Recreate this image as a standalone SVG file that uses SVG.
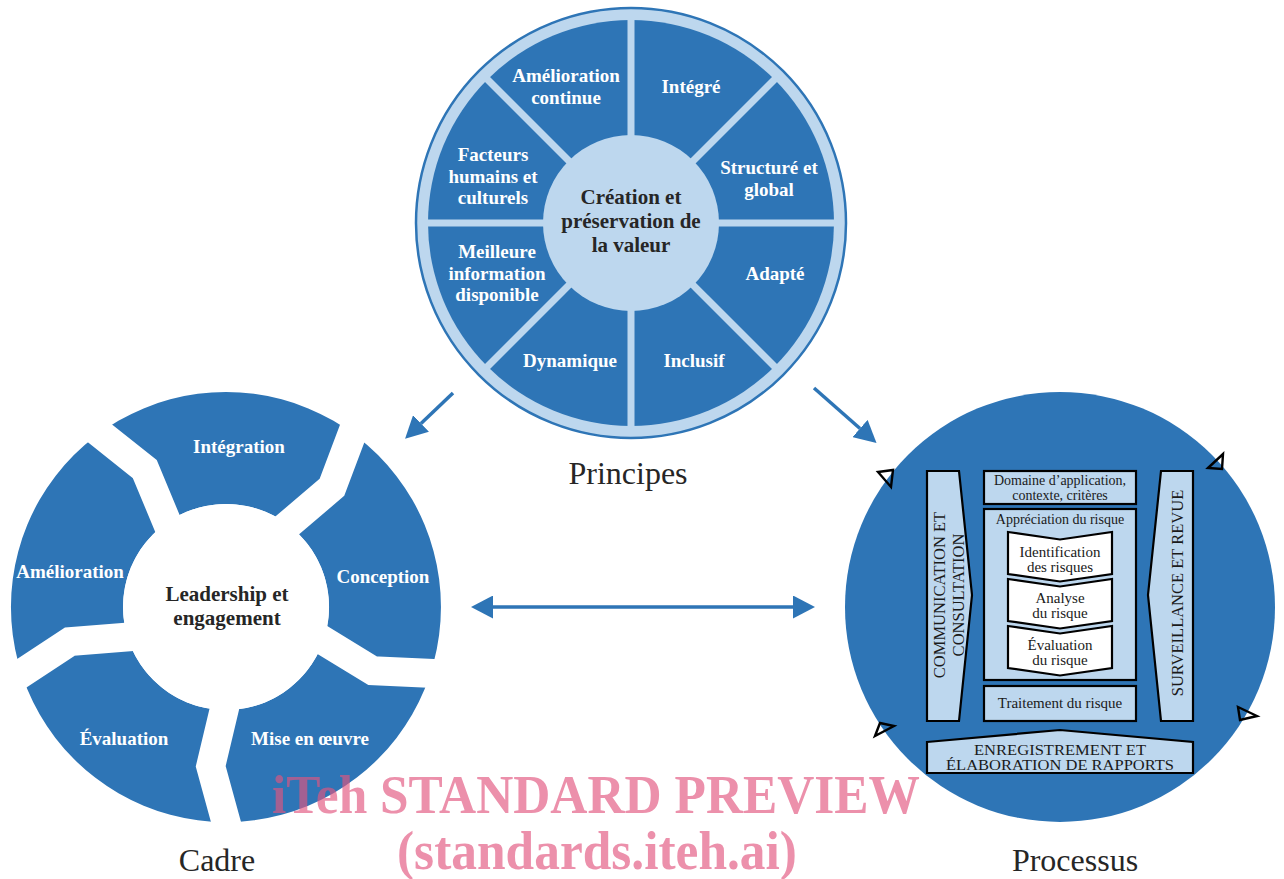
<svg xmlns="http://www.w3.org/2000/svg" width="1284" height="879" viewBox="0 0 1284 879">
<style>
.lbl{font-family:"Liberation Serif","DejaVu Serif",serif;font-weight:bold;font-size:19px;fill:#ffffff;text-anchor:middle}
.ctr{font-family:"Liberation Serif","DejaVu Serif",serif;font-weight:bold;font-size:21px;fill:#262626;text-anchor:middle}
.cap{font-family:"Liberation Serif","DejaVu Serif",serif;font-size:32px;fill:#262626;text-anchor:middle}
.pt{font-family:"Liberation Serif","DejaVu Serif",serif;font-size:15px;fill:#1a1a1a;text-anchor:middle}
.ps{font-family:"Liberation Serif","DejaVu Serif",serif;font-size:14px;fill:#1a1a1a;text-anchor:middle}
.pv{font-family:"Liberation Serif","DejaVu Serif",serif;font-size:16.5px;fill:#1a1a1a;text-anchor:middle}
.pb{font-family:"Liberation Serif","DejaVu Serif",serif;font-size:14px;fill:#1a1a1a;text-anchor:middle}
.box{fill:#BDD7EE;stroke:#000;stroke-width:2.2;stroke-linejoin:miter}
.chev{fill:#ffffff;stroke:#000;stroke-width:2.2;stroke-linejoin:miter}
.tri{fill:none;stroke:#000;stroke-width:2.4;stroke-linejoin:miter}
.sep{stroke:#BDD7EE;stroke-width:7}
.gap{fill:none;stroke:#ffffff;stroke-width:29;stroke-linejoin:miter;stroke-miterlimit:10}
.arr{stroke:#2E75B6;stroke-width:3.5;fill:none}
.wm{font-family:"Liberation Serif","Times New Roman",serif;font-weight:bold;fill:#e2557f;opacity:0.65;text-anchor:middle}
</style>
<defs>
<marker id="ah" viewBox="0 0 22 23" refX="0" refY="11.5" markerWidth="22" markerHeight="23" markerUnits="userSpaceOnUse" orient="auto-start-reverse">
<path d="M0,0 L22,11.5 L0,23 Z" fill="#2E75B6"/>
</marker>
</defs>
<rect width="1284" height="879" fill="#ffffff"/>

<!-- Principes wheel -->
<g id="principes">
<circle cx="631" cy="223" r="215" fill="#BDD7EE" stroke="#2E75B6" stroke-width="2.5"/>
<circle cx="631" cy="223" r="203" fill="#2E75B6"/>
<line class="sep" x1="631" y1="18" x2="631" y2="428"/>
<line class="sep" x1="426" y1="223" x2="836" y2="223"/>
<line class="sep" x1="486" y1="78" x2="776" y2="368"/>
<line class="sep" x1="776" y1="78" x2="486" y2="368"/>
<circle cx="631" cy="223" r="88" fill="#BDD7EE"/>
<text class="lbl" x="566" y="82">Amélioration</text>
<text class="lbl" x="566" y="104">continue</text>
<text class="lbl" x="691" y="93">Intégré</text>
<text class="lbl" x="769" y="174">Structuré et</text>
<text class="lbl" x="769" y="196">global</text>
<text class="lbl" x="493" y="161">Facteurs</text>
<text class="lbl" x="493" y="183">humains et</text>
<text class="lbl" x="493" y="204">culturels</text>
<text class="ctr" x="631" y="204">Création et</text>
<text class="ctr" x="631" y="228">préservation de</text>
<text class="ctr" x="631" y="252">la valeur</text>
<text class="lbl" x="497" y="258">Meilleure</text>
<text class="lbl" x="497" y="280">information</text>
<text class="lbl" x="497" y="301">disponible</text>
<text class="lbl" x="775" y="280">Adapté</text>
<text class="lbl" x="570" y="367">Dynamique</text>
<text class="lbl" x="694" y="367">Inclusif</text>
<text class="cap" x="628" y="484">Principes</text>
</g>

<!-- Cadre cycle -->
<g id="cadre">
<path d="M226,392 A215,215 0 1,1 225.9,392 Z M226,504 A103,103 0 1,0 226.1,504 Z" fill="#2E75B6" fill-rule="evenodd"/>
<polyline class="gap" points="361.2,409.7 332.0,487.2 281.8,530.1"/>
<polyline class="gap" points="455.5,674.5 372.7,670.8 316.4,636.4"/>
<polyline class="gap" points="232.6,846.1 210.7,766.3 226,702"/>
<polyline class="gap" points="0.6,687.2 69.8,641.6 135.6,636.4"/>
<polyline class="gap" points="80.0,417.5 144.8,469.1 170.2,530.1"/>
<circle cx="226" cy="607" r="103" fill="#ffffff"/>
<text class="lbl" x="239" y="453">Intégration</text>
<text class="lbl" x="383" y="583">Conception</text>
<text class="lbl" x="310" y="745">Mise en œuvre</text>
<text class="lbl" x="124" y="745">Évaluation</text>
<text class="lbl" x="70" y="578">Amélioration</text>
<text class="ctr" x="227" y="601">Leadership et</text>
<text class="ctr" x="227" y="625">engagement</text>
<text class="cap" x="217" y="871">Cadre</text>
</g>

<!-- Processus -->
<g id="processus">
<circle cx="1060" cy="607" r="215" fill="#2E75B6"/>
<polygon class="tri" points="878,472 893,470 891,487"/>
<polygon class="tri" points="1208,468 1223,454 1222,469"/>
<polygon class="tri" points="880,723 894,726 875,736"/>
<polygon class="tri" points="1238,707 1257,716 1240,720"/>
<polygon class="box" points="927,471 959,471 972,595 959,721 927,721"/>
<text class="pv" transform="translate(945,595) rotate(-90)">COMMUNICATION ET</text>
<text class="pv" transform="translate(963.5,595) rotate(-90)">CONSULTATION</text>
<polygon class="box" points="1161,471 1193,471 1193,721 1161,721 1148,595"/>
<text class="pv" transform="translate(1182.5,593) rotate(-90)">SURVEILLANCE ET REVUE</text>
<rect class="box" x="984" y="471" width="152" height="33"/>
<text class="ps" x="1060" y="485">Domaine d’application,</text>
<text class="ps" x="1060" y="500">contexte, critères</text>
<rect class="box" x="984" y="509" width="152" height="171"/>
<text class="ps" x="1060" y="524">Appréciation du risque</text>
<polygon class="chev" points="1008,532 1060,539.5 1112,532 1112,574 1060,581.5 1008,574"/>
<text class="pt" x="1060" y="557">Identification</text>
<text class="pt" x="1060" y="572">des risques</text>
<polygon class="chev" points="1008,579 1060,586.5 1112,579 1112,621 1060,628.5 1008,621"/>
<text class="pt" x="1060" y="603">Analyse</text>
<text class="pt" x="1060" y="618">du risque</text>
<polygon class="chev" points="1008,626 1060,633.5 1112,626 1112,668 1060,675.5 1008,668"/>
<text class="pt" x="1060" y="650">Évaluation</text>
<text class="pt" x="1060" y="665">du risque</text>
<rect class="box" x="984" y="686" width="152" height="35"/>
<text class="pt" x="1060" y="708">Traitement du risque</text>
<polygon class="box" points="927,742 1060,730 1193,742 1193,773 927,773"/>
<text class="pb" x="1060" y="754.5" textLength="172" lengthAdjust="spacingAndGlyphs">ENREGISTREMENT ET</text>
<text class="pb" x="1060" y="769.5" textLength="228" lengthAdjust="spacingAndGlyphs">ÉLABORATION DE RAPPORTS</text>
<text class="cap" x="1075" y="871">Processus</text>
</g>

<!-- connectors -->
<g id="connectors">
<line class="arr" x1="453" y1="393" x2="421" y2="423.5" marker-end="url(#ah)"/>
<line class="arr" x1="814" y1="388" x2="860" y2="428.5" marker-end="url(#ah)"/>
<line class="arr" x1="493" y1="607" x2="793" y2="607" marker-start="url(#ah)" marker-end="url(#ah)"/>
</g>

<!-- watermark -->
<g id="watermark">
<text class="wm" x="596" y="813" font-size="54" textLength="648" lengthAdjust="spacingAndGlyphs">iTeh STANDARD PREVIEW</text>
<text class="wm" x="597" y="869" font-size="54" textLength="400" lengthAdjust="spacingAndGlyphs">(standards.iteh.ai)</text>
</g>
</svg>
